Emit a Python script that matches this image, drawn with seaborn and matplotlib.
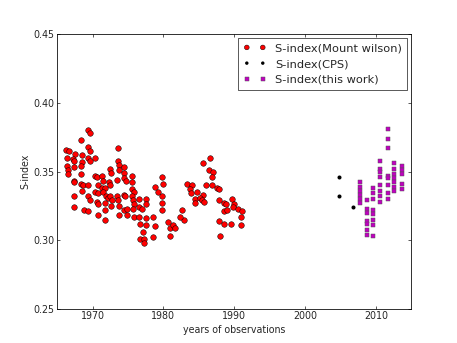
"""
S-index of the star over time: Mount Wilson, CPS and this work.
"""

import matplotlib
matplotlib.use("Agg")
import matplotlib.pyplot as plt
import numpy as np
import seaborn as sns

# Mount Wilson S-index (year, value)
mw_years = [
    1969.4, 1969.6, 1968.4, 1966.3, 1966.7, 1967.5, 1969.4, 1969.6, 1968.5, 1969.4,
    1969.7, 1970.4, 1966.4, 1967.3, 1967.4, 1968.5, 1966.4, 1966.5, 1966.6, 1967.4,
    1968.4, 1968.3, 1973.6, 1973.6, 1973.8, 1972.5, 1972.6, 1973.7, 1974.5, 1974.5,
    1975.6, 1970.4, 1970.6, 1971.4, 1967.4, 1967.4, 1968.3, 1968.6, 1969.4, 1968.5,
    1967.4, 1967.4, 1968.8, 1969.4, 1971.5, 1972.3, 1970.8, 1971.3, 1971.8, 1972.5,
    1973.4, 1974.4, 1974.7, 1975.5, 1975.6, 1975.8, 1970.4, 1970.7, 1971.5, 1971.9,
    1972.2, 1972.5, 1972.8, 1973.4, 1973.6, 1974.4, 1974.6, 1975.5, 1975.7, 1969.4,
    1969.6, 1970.6, 1970.7, 1971.7, 1972.6, 1971.7, 1973.8, 1974.5, 1974.8, 1975.8,
    1975.7, 1976.5, 1977.5, 1977.6, 1976.6, 1977.0, 1970.8, 1971.8, 1973.7, 1974.8,
    1975.8, 1976.5, 1977.5, 1976.7, 1977.5, 1978.5, 1978.8, 1977.1, 1976.7, 1977.3,
    1977.3, 1978.5, 1978.8, 1979.2, 1979.8, 1979.9, 1979.8, 1979.8, 1979.8, 1980.6,
    1980.9, 1981.0, 1981.4, 1981.7, 1982.6, 1982.9, 1982.4,
    1986.6, 1985.6, 1986.5, 1987.0, 1986.8, 1983.4, 1984.0, 1983.7, 1986.0, 1986.9,
    1987.6, 1987.9, 1983.9, 1984.7, 1985.6, 1984.5, 1985.1, 1984.5, 1985.5, 1985.8,
    1987.8, 1988.5, 1988.9, 1989.7, 1989.9, 1989.8, 1990.6, 1991.1, 1990.9, 1988.6,
    1989.0, 1987.9, 1988.6, 1989.5, 1991.0, 1988.0,
]
mw_sindex = [
    0.380, 0.378, 0.373, 0.366, 0.365, 0.363, 0.368, 0.365, 0.362, 0.360,
    0.358, 0.360, 0.360, 0.359, 0.358, 0.357, 0.354, 0.351, 0.348, 0.353,
    0.354, 0.348, 0.367, 0.358, 0.355, 0.352, 0.349, 0.351, 0.353, 0.349,
    0.347, 0.347, 0.346, 0.347, 0.343, 0.342, 0.341, 0.340, 0.340, 0.336,
    0.332, 0.324, 0.322, 0.321, 0.343, 0.342, 0.340, 0.338, 0.338, 0.340,
    0.344, 0.345, 0.343, 0.342, 0.337, 0.335, 0.335, 0.334, 0.335, 0.332,
    0.331, 0.332, 0.329, 0.332, 0.329, 0.333, 0.332, 0.332, 0.329, 0.332,
    0.329, 0.328, 0.326, 0.327, 0.325, 0.322, 0.325, 0.322, 0.323, 0.326,
    0.323, 0.330, 0.330, 0.326, 0.324, 0.323, 0.318, 0.315, 0.318, 0.318,
    0.317, 0.317, 0.316, 0.312, 0.311, 0.317, 0.310, 0.306, 0.301, 0.301,
    0.298, 0.302, 0.339, 0.335, 0.346, 0.341, 0.332, 0.327, 0.322, 0.313,
    0.309, 0.303, 0.311, 0.309, 0.322, 0.315, 0.317,
    0.360, 0.356, 0.351, 0.350, 0.346, 0.341, 0.340, 0.337, 0.340, 0.340,
    0.338, 0.337, 0.334, 0.335, 0.333, 0.330, 0.331, 0.327, 0.329, 0.328,
    0.329, 0.327, 0.326, 0.330, 0.326, 0.324, 0.323, 0.321, 0.317, 0.321,
    0.322, 0.314, 0.312, 0.312, 0.311, 0.303,
]

# CPS S-index
cps_years = [2004.8, 2004.8, 2006.7]
cps_sindex = [0.346, 0.332, 0.324]

# this work, one column of points per season
tw_years = (
    [2007.7] * 6 + [2008.7] * 7 + [2009.6] * 8 + [2010.6] * 8
    + [2011.7] * 8 + [2012.6] * 7 + [2013.7] * 5
)
tw_sindex = [
    0.342, 0.339, 0.336, 0.333, 0.330, 0.327,
    0.329, 0.323, 0.320, 0.314, 0.312, 0.307, 0.304,
    0.338, 0.334, 0.330, 0.322, 0.319, 0.315, 0.311, 0.303,
    0.358, 0.352, 0.350, 0.346, 0.340, 0.336, 0.332, 0.328,
    0.381, 0.374, 0.367, 0.347, 0.345, 0.340, 0.334, 0.330,
    0.356, 0.352, 0.348, 0.345, 0.342, 0.339, 0.336,
    0.354, 0.351, 0.348, 0.341, 0.337,
]

sns.set_style("white")
plt.rcParams["font.family"] = ["DejaVu Sans"]
plt.rcParams.update({
    "font.size": 12,
    "xtick.direction": "in",
    "ytick.direction": "in",
    "xtick.top": True,
    "ytick.right": True,
    "xtick.major.size": 4,
    "ytick.major.size": 4,
    "xtick.bottom": True,
    "ytick.left": True,
})

fig = plt.figure(figsize=(457 / 57, 343 / 57), dpi=57)
ax = fig.add_axes([0.125, 0.1, 0.775, 0.8])

sns.scatterplot(x=mw_years, y=mw_sindex, ax=ax, color="red", marker="o",
                s=50, edgecolor="black", linewidth=0.6,
                label="S-index(Mount wilson)")
sns.scatterplot(x=cps_years, y=cps_sindex, ax=ax, color="black", marker="o",
                s=26, edgecolor="black", linewidth=0,
                label="S-index(CPS)")
sns.scatterplot(x=tw_years, y=tw_sindex, ax=ax, color="#c000c0", marker="s",
                s=32, edgecolor="#555555", linewidth=0.6,
                label="S-index(this work)")

ax.set_xlim(1965, 2015)
ax.set_ylim(0.25, 0.45)
ax.set_xticks([1970, 1980, 1990, 2000, 2010])
ax.set_yticks(np.arange(0.25, 0.451, 0.05))
ax.set_xlabel("years of observations", fontsize=12)
ax.set_ylabel("S-index", fontsize=12)
ax.tick_params(labelsize=12, color="black", width=0.8)
for sp in ax.spines.values():
    sp.set_color("black")
    sp.set_linewidth(1.0)

# legend text is "large" in the original, two markers per entry
leg = ax.legend(loc="upper right", scatterpoints=2, scatteryoffsets=[0.5],
                markerscale=0.85, fancybox=False, framealpha=1,
                edgecolor="black", fontsize=14.4, borderaxespad=0.35,
                handlelength=2.0, handletextpad=0.8, labelspacing=0.5,
                borderpad=0.45)
leg.get_frame().set_linewidth(0.8)

fig.savefig("out.png", dpi=57)
